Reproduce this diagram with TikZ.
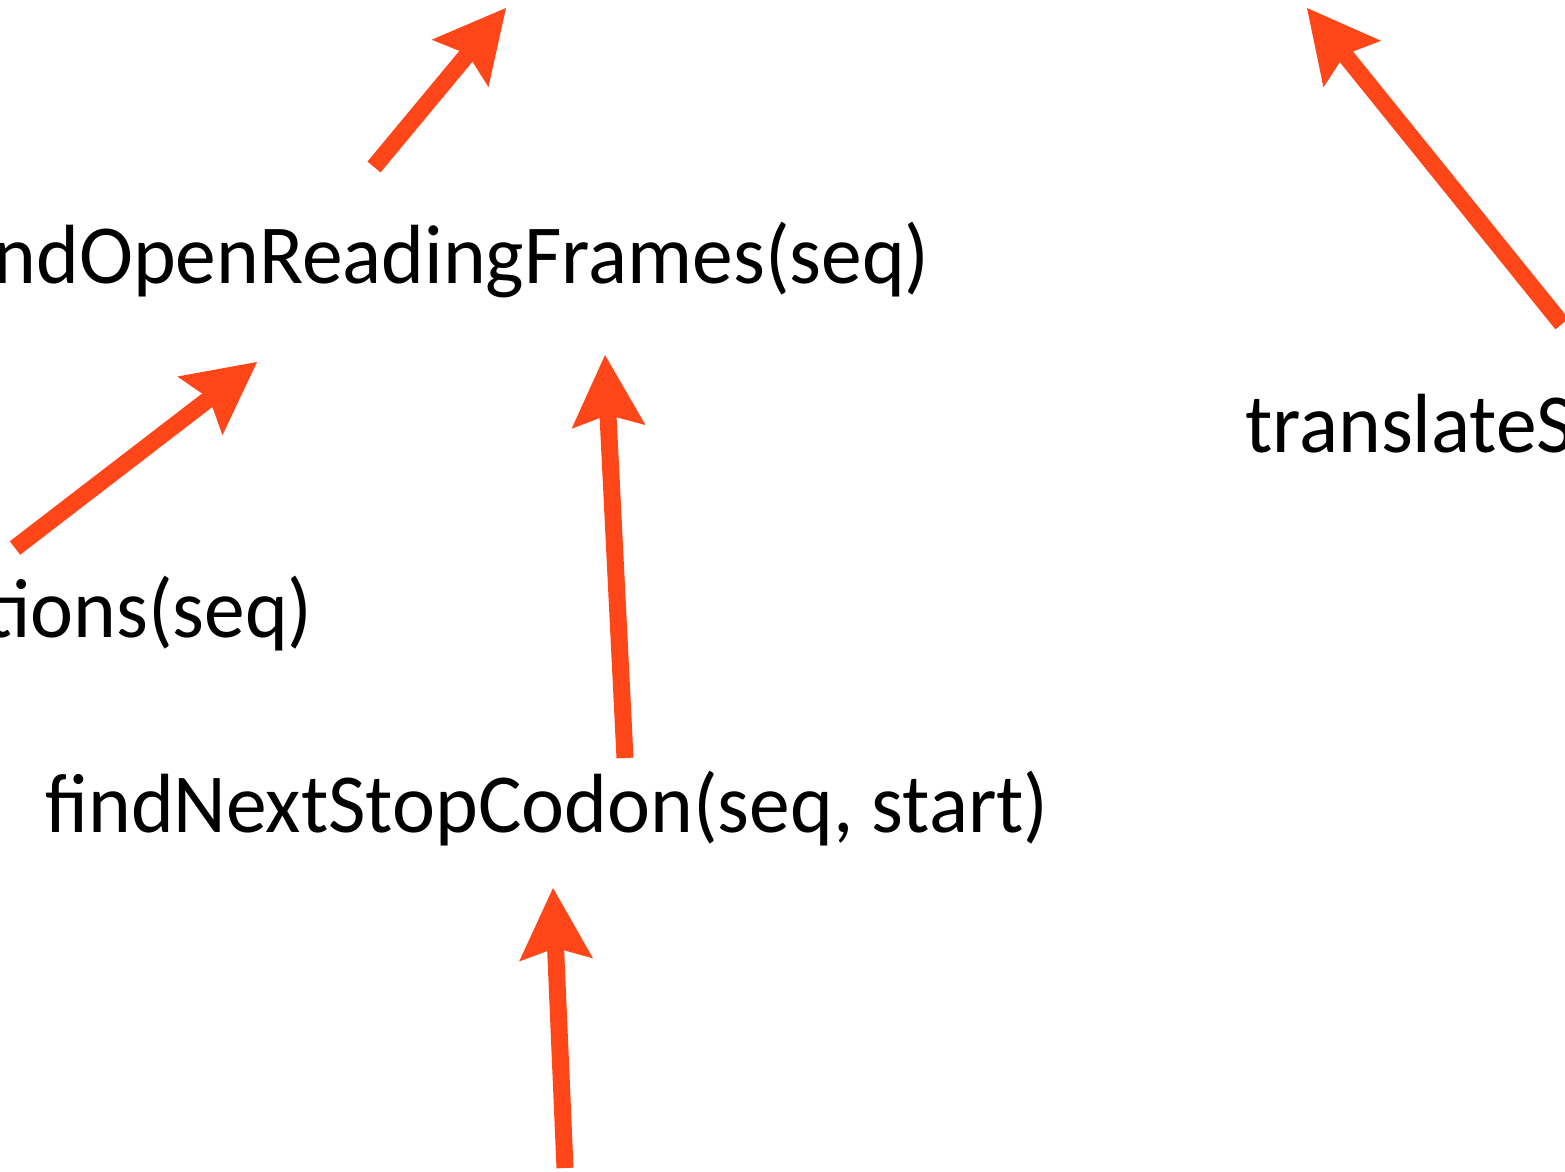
\documentclass[tikz,border=0pt]{standalone}
\usepackage{fontspec}
\setmainfont{Carlito}
\usetikzlibrary{arrows.meta}
\definecolor{callred}{RGB}{255,70,24}
\newcommand{\narrowtext}[1]{\scalebox{0.97}[1]{#1}}
\tikzset{
  fname/.style={inner sep=0pt, font=\fontsize{84}{90}\selectfont, text=black},
  callarrow/.style={draw=callred, line width=17pt,
    -{Stealth[length=72pt, width=74pt, inset=12pt, line width=0pt]}}
}
\begin{document}
\begin{tikzpicture}[x=1pt, y=-1pt]
  \useasboundingbox (0,0) rectangle (1565,1171);
  \clip (0,0) rectangle (1565,1171);
  % function names
  \node[fname, anchor=base east] (orf) at (930,283) {\narrowtext{findOpenReadingFrames(seq)}};
  \node[fname, anchor=base west] (trans) at (1245,452) {\narrowtext{translateSe}};
  \node[fname, anchor=base east] (start) at (313,637) {\narrowtext{tions(seq)}};
  \node[fname, anchor=base west] (stop) at (45,832) {\narrowtext{findNextStopCodon(seq, start)}};
  % arrow ends
  \coordinate (a1s) at (374,167);  \coordinate (a1e) at (506,8);
  \coordinate (a2s) at (1562,324); \coordinate (a2e) at (1307,8);
  \coordinate (a3s) at (15,548);   \coordinate (a3e) at (257,362);
  \coordinate (a4s) at (625,758);  \coordinate (a4e) at (605,355);
  \coordinate (a5s) at (565,1168); \coordinate (a5e) at (553,888);
  % calls
  \draw[callarrow] (a1s) -- (a1e);
  \draw[callarrow] (a2s) -- (a2e);
  \draw[callarrow] (a3s) -- (a3e);
  \draw[callarrow] (a4s) -- (a4e);
  \draw[callarrow] (a5s) -- (a5e);
\end{tikzpicture}
\end{document}
